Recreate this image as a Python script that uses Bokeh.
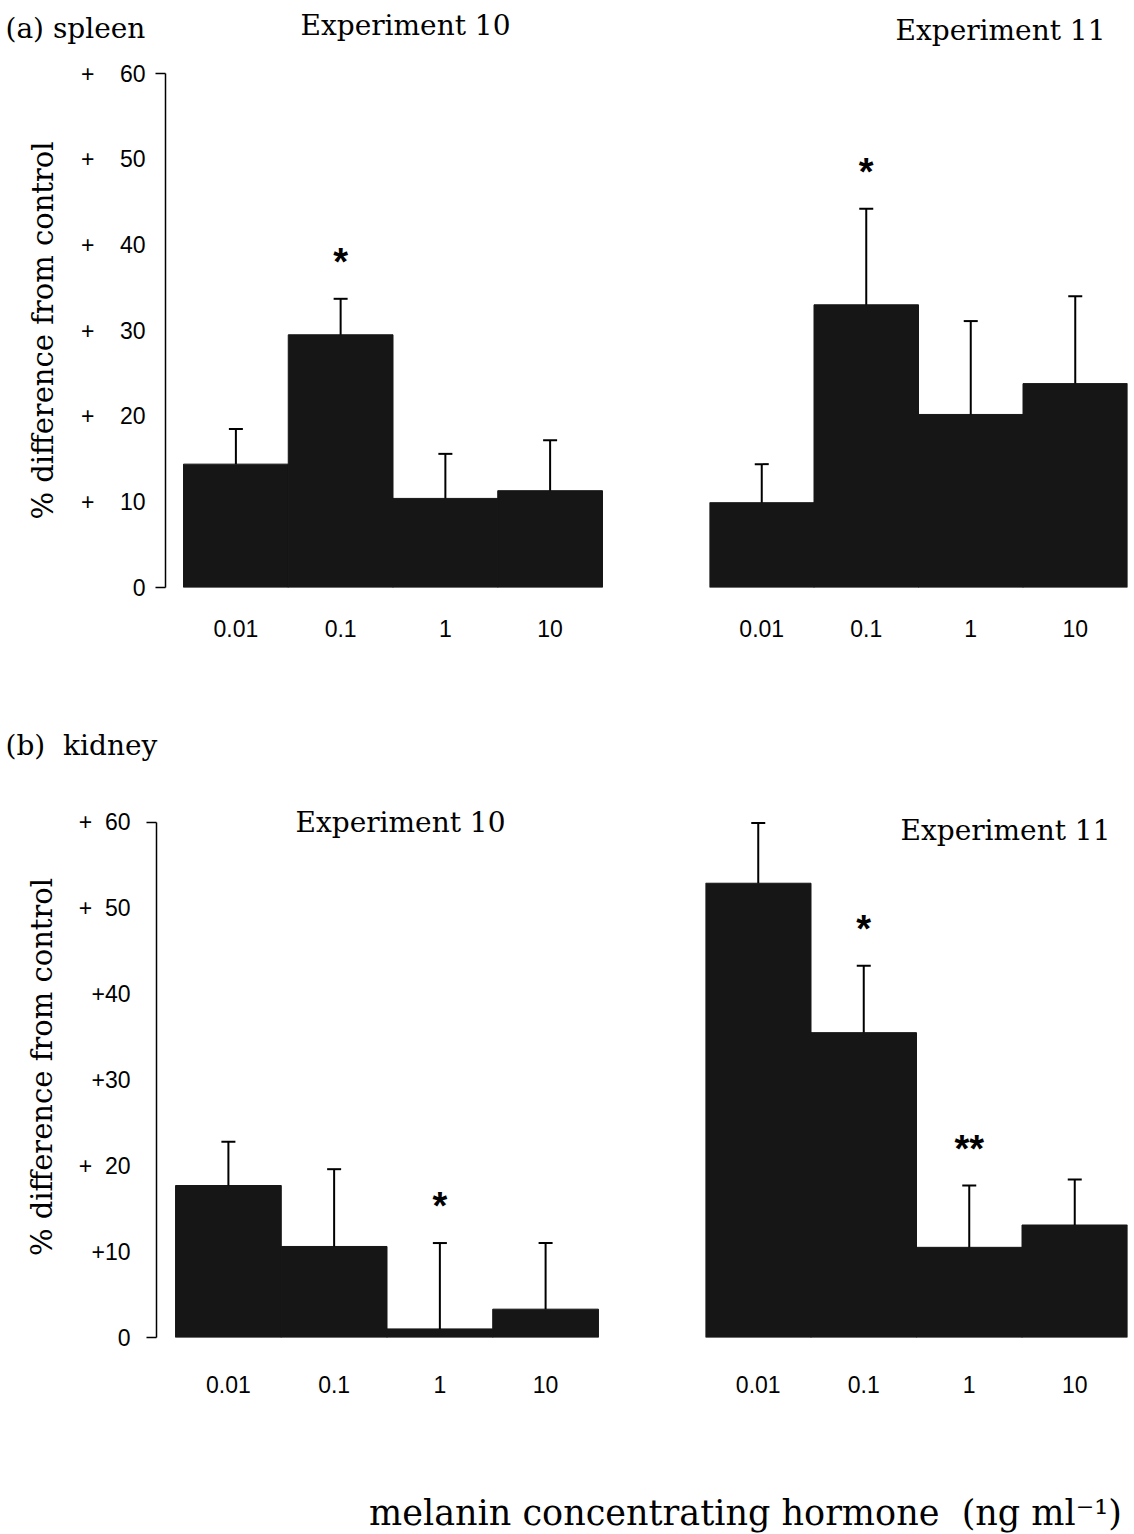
from bokeh.plotting import figure
from bokeh.models import (ColumnDataSource, FactorRange, Range1d, LinearAxis,
                          FixedTicker, Whisker, TeeHead, Label)
from bokeh.layouts import column, row
from bokeh.embed import file_html
from bokeh.resources import INLINE
from bokeh.core.properties import value

# ---- data -------------------------------------------------------------
doses = ["0.01", "0.1", "1", "10"]          # melanin concentrating hormone, ng/ml
y_ticks = [0, 10, 20, 30, 40, 50, 60]
spleen_tick_text = ["0", "+\u2007\u200710", "+\u2007\u200720", "+\u2007\u200730",
                    "+\u2007\u200740", "+\u2007\u200750", "+\u2007\u200760"]
kidney_tick_text = ["0", "+10", "+\u200720", "+30", "+40", "+\u200750", "+\u200760"]

spleen_exp10_mean = [14.4, 29.5, 10.4, 11.3]
spleen_exp10_sem = [4.1, 4.2, 5.2, 5.9]
spleen_exp10_sig = ["", "*", "", ""]

spleen_exp11_mean = [9.9, 33.0, 20.2, 23.8]
spleen_exp11_sem = [4.5, 11.2, 10.9, 10.2]
spleen_exp11_sig = ["", "*", "", ""]

kidney_exp10_mean = [17.7, 10.6, 1.0, 3.3]
kidney_exp10_sem = [5.1, 9.0, 10.0, 7.7]
kidney_exp10_sig = ["", "", "*", ""]

kidney_exp11_mean = [52.9, 35.5, 10.5, 13.1]
kidney_exp11_sem = [7.0, 7.8, 7.2, 5.3]
kidney_exp11_sig = ["", "*", "**", ""]

# ---- style ------------------------------------------------------------
BAR = "#161616"
SERIF = "DejaVu Serif"
SANS = "Liberation Sans"
W_LEFT, W_RIGHT = 640, 494


def panel(mean, sem, sig, width, height, borders, pad, y_top, xlab_standoff,
          tick_text=None, tick_standoff=0, title_standoff=0):
    left, right, top, bottom = borders
    src = ColumnDataSource(dict(
        dose=doses, mean=mean,
        upper=[m + s for m, s in zip(mean, sem)], sig=sig))
    p = figure(width=width, height=height,
               x_range=FactorRange(*doses, range_padding=pad,
                                   range_padding_units="absolute"),
               y_range=Range1d(0, y_top), y_axis_location=None,
               output_backend="svg", toolbar_location=None,
               min_border_left=left, min_border_right=right,
               min_border_top=top, min_border_bottom=bottom)
    p.outline_line_color = None
    p.grid.visible = False
    p.background_fill_color = "white"
    p.border_fill_color = "white"

    p.vbar(x="dose", top="mean", bottom=0, width=1.0, source=src,
           fill_color=BAR, line_color=BAR)
    w = Whisker(source=src, base="dose", lower="mean", upper="upper",
                line_color="black", line_width=2,
                upper_head=TeeHead(size=14, line_width=2, line_color="black"),
                lower_head=None, level="overlay")
    p.add_layout(w)
    p.text(x="dose", y="upper", text="sig", source=src, y_offset=-37,
           text_align="center", text_baseline="middle",
           text_font=value(SANS), text_font_style="bold",
           text_font_size="38px", text_color="black")

    xa = p.xaxis[0]
    xa.axis_line_color = None
    xa.major_tick_line_color = None
    xa.minor_tick_line_color = None
    xa.major_label_text_font = SANS
    xa.major_label_text_font_size = "23px"
    xa.major_label_text_color = "black"
    xa.major_label_standoff = xlab_standoff

    if tick_text is not None:
        ya = LinearAxis(ticker=FixedTicker(ticks=y_ticks, minor_ticks=[0, 60]),
                        bounds=(0, 60),
                        major_label_overrides={t: s for t, s in zip(y_ticks, tick_text)},
                        axis_line_width=1.5, axis_line_color="black",
                        major_tick_line_color=None, major_tick_out=0,
                        major_tick_in=0, minor_tick_out=10, minor_tick_in=0,
                        minor_tick_line_width=1.5, minor_tick_line_color="black",
                        major_label_standoff=tick_standoff,
                        major_label_text_font=SANS,
                        major_label_text_font_size="23px",
                        major_label_text_color="black",
                        axis_label="% difference from control",
                        axis_label_text_font=SERIF,
                        axis_label_text_font_style="normal",
                        axis_label_text_font_size="29px",
                        axis_label_text_color="black",
                        axis_label_standoff=title_standoff)
        p.add_layout(ya, "left")
    return p


def strip(height):
    s = figure(width=W_LEFT + W_RIGHT, height=height, x_range=Range1d(0, 1),
               y_range=Range1d(0, 1), output_backend="svg",
               toolbar_location=None, min_border=0)
    s.axis.visible = False
    s.grid.visible = False
    s.outline_line_color = None
    return s


def label(p, text, x, y, frame_left, frame_bottom, size="28px", align="center"):
    # Label screen units are measured from the frame's lower-left corner
    p.add_layout(Label(x=x - frame_left, y=frame_bottom - y, x_units="screen",
                       y_units="screen", text=text, text_align=align,
                       text_baseline="middle", text_font=SERIF,
                       text_font_size=size, text_color="black"))


# ---- (a) spleen -------------------------------------------------------
head_a = strip(60)
label(head_a, "(a) spleen", 5, 28, 0, 60, align="left")
label(head_a, "Experiment 10", 405, 25, 0, 60)
label(head_a, "Experiment 11", 1000, 30, 0, 60)

a10 = panel(spleen_exp10_mean, spleen_exp10_sem, spleen_exp10_sig,
            W_LEFT, 620, (165, 20, 13, 93), 0.172, 60, 26,
            spleen_tick_text, 10, 18)
a11 = panel(spleen_exp11_mean, spleen_exp11_sem, spleen_exp11_sig,
            W_RIGHT, 620, (69, 7, 13, 93), 0.0, 60, 26)

# ---- (b) kidney -------------------------------------------------------
head_b = strip(90)
label(head_b, "(b)\u00a0 kidney", 5, 65, 0, 90, align="left")

# frame reaches 3 units above the +60 line so the titles sit inside it
b10 = panel(kidney_exp10_mean, kidney_exp10_sem, kidney_exp10_sig,
            W_LEFT, 680, (156, 23, 26, 113), 0.18, 63, 32,
            kidney_tick_text, 16, 17)
b11 = panel(kidney_exp11_mean, kidney_exp11_sem, kidney_exp11_sig,
            W_RIGHT, 680, (65, 7, 26, 113), 0.0, 63, 32)
label(b10, "Experiment 10", 400, 822 - 770, 156, 1337 - 770)
label(b11, "Experiment 11", 1005 - 640, 830 - 770, 65, 1337 - 770)

# ---- shared x-axis title ---------------------------------------------
foot = strip(84)
label(foot, "melanin concentrating hormone\u00a0 (ng ml\u207b\u00b9)", 745, 62, 0, 84,
      size="35px")

layout = column(head_a, row(a10, a11), head_b, row(b10, b11), foot)

with open("out.html", "w") as fh:
    fh.write(file_html(layout, INLINE))
